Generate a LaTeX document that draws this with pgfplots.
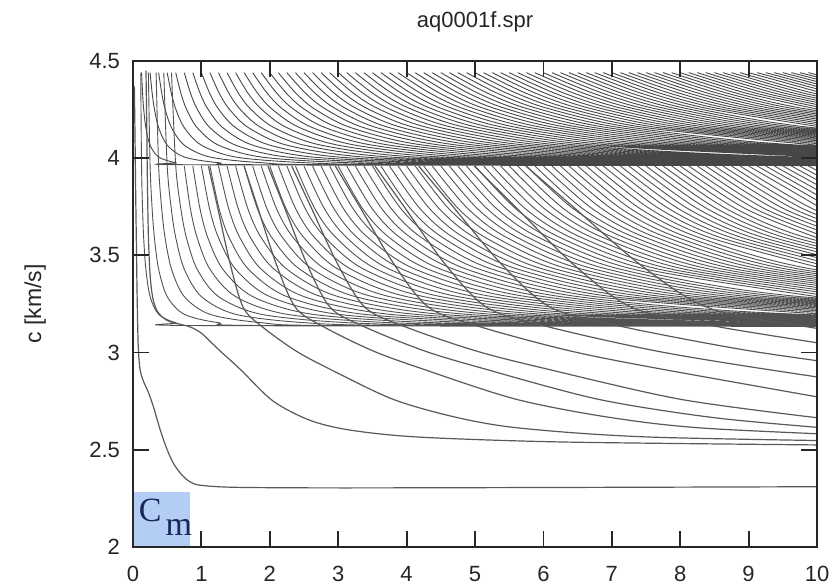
\documentclass[border=0pt]{standalone}
\usepackage{fontspec}
\setmainfont{Liberation Sans}
\newfontfamily\seriffont{Liberation Serif}
\usepackage{pgfplots}
\usepackage{pgfplotstable}
\pgfplotsset{compat=1.18}
\definecolor{cmblue}{RGB}{180,205,245}
\definecolor{cmtext}{RGB}{25,40,90}

% higher modes: x, c in upper band (cu), c in middle band (ci); nan rows separate curves
\pgfplotstableread[row sep=\\]{
x cu ci\\
0.113 nan 4.44\\ 0.125 4.44 3.96\\ 0.14 4.335 3.739\\ 0.156 4.253 3.591\\ 0.188 4.157 3.429\\ 0.25 4.067 3.288\\ 0.375 4.006 3.197\\ 0.625 3.977 3.154\\ 1 3.966 3.139\\ 10 3.962 3.135\\ nan nan nan\\
0.225 nan 4.44\\ 0.25 4.44 3.96\\ 0.28 4.335 3.739\\ 0.313 4.253 3.591\\ 0.375 4.157 3.429\\ 0.5 4.067 3.288\\ 0.75 4.006 3.197\\ 1.25 3.977 3.154\\ 2 3.966 3.139\\ 10 3.962 3.135\\ nan nan nan\\
0.338 nan 4.44\\ 0.375 4.44 3.96\\ 0.42 4.335 3.739\\ 0.469 4.253 3.591\\ 0.563 4.157 3.429\\ 0.75 4.067 3.288\\ 1.125 4.006 3.197\\ 1.875 3.977 3.154\\ 3 3.966 3.139\\ 10 3.962 3.135\\ nan nan nan\\
0.45 nan 4.44\\ 0.5 4.44 3.96\\ 0.56 4.335 3.739\\ 0.625 4.253 3.591\\ 0.75 4.157 3.429\\ 1 4.067 3.288\\ 1.5 4.006 3.197\\ 2.5 3.977 3.154\\ 4 3.966 3.139\\ 10 3.962 3.135\\ nan nan nan\\
0.563 nan 4.44\\ 0.625 4.44 3.96\\ 0.7 4.335 3.739\\ 0.781 4.253 3.591\\ 0.938 4.157 3.429\\ 1.25 4.067 3.288\\ 1.875 4.006 3.197\\ 3.125 3.977 3.154\\ 5 3.966 3.139\\ 10 3.962 3.135\\ nan nan nan\\
0.75 4.44 3.96\\ 0.84 4.335 3.739\\ 0.938 4.253 3.591\\ 1.125 4.157 3.429\\ 1.5 4.067 3.288\\ 2.25 4.006 3.197\\ 3.75 3.977 3.154\\ 6 3.966 3.139\\ 10 3.962 3.135\\ nan nan nan\\
0.875 4.44 3.96\\ 0.98 4.335 3.739\\ 1.094 4.253 3.591\\ 1.313 4.157 3.429\\ 1.75 4.067 3.288\\ 2.625 4.006 3.197\\ 4.375 3.977 3.154\\ 7 3.966 3.139\\ 10 3.962 3.135\\ nan nan nan\\
1 4.44 3.96\\ 1.12 4.335 3.739\\ 1.25 4.253 3.591\\ 1.5 4.157 3.429\\ 2 4.067 3.288\\ 3 4.006 3.197\\ 5 3.977 3.154\\ 8 3.966 3.139\\ 10 3.962 3.135\\ nan nan nan\\
1.125 4.44 3.96\\ 1.26 4.335 3.739\\ 1.406 4.253 3.591\\ 1.688 4.157 3.429\\ 2.25 4.067 3.288\\ 3.375 4.006 3.197\\ 5.625 3.977 3.154\\ 9 3.966 3.139\\ 10 3.962 3.135\\ nan nan nan\\
1.25 4.44 3.96\\ 1.4 4.335 3.739\\ 1.563 4.253 3.591\\ 1.875 4.157 3.429\\ 2.5 4.067 3.288\\ 3.75 4.006 3.197\\ 6.25 3.977 3.154\\ 10 3.966 3.139\\ nan nan nan\\
1.375 4.44 3.96\\ 1.54 4.335 3.739\\ 1.719 4.253 3.591\\ 2.063 4.157 3.429\\ 2.75 4.067 3.288\\ 4.125 4.006 3.197\\ 6.875 3.977 3.154\\ 11 3.966 3.139\\ nan nan nan\\
1.5 4.44 3.96\\ 1.68 4.335 3.739\\ 1.875 4.253 3.591\\ 2.25 4.157 3.429\\ 3 4.067 3.288\\ 4.5 4.006 3.197\\ 7.5 3.977 3.154\\ 12 3.966 3.139\\ nan nan nan\\
1.625 4.44 3.96\\ 1.82 4.335 3.739\\ 2.031 4.253 3.591\\ 2.438 4.157 3.429\\ 3.25 4.067 3.288\\ 4.875 4.006 3.197\\ 8.125 3.977 3.154\\ 13 3.966 3.139\\ nan nan nan\\
1.75 4.44 3.96\\ 1.96 4.335 3.739\\ 2.188 4.253 3.591\\ 2.625 4.157 3.429\\ 3.5 4.067 3.288\\ 5.25 4.006 3.197\\ 8.75 3.977 3.154\\ 14 3.966 3.139\\ nan nan nan\\
1.875 4.44 3.96\\ 2.1 4.335 3.739\\ 2.344 4.253 3.591\\ 2.813 4.157 3.429\\ 3.75 4.067 3.288\\ 5.625 4.006 3.197\\ 9.375 3.977 3.154\\ 15 3.966 3.139\\ nan nan nan\\
2 4.44 3.96\\ 2.24 4.335 3.739\\ 2.5 4.253 3.591\\ 3 4.157 3.429\\ 4 4.067 3.288\\ 6 4.006 3.197\\ 10 3.977 3.154\\ nan nan nan\\
2.125 4.44 3.96\\ 2.38 4.335 3.739\\ 2.656 4.253 3.591\\ 3.188 4.157 3.429\\ 4.25 4.067 3.288\\ 6.375 4.006 3.197\\ 10.625 3.977 3.154\\ nan nan nan\\
2.25 4.44 3.96\\ 2.52 4.335 3.739\\ 2.813 4.253 3.591\\ 3.375 4.157 3.429\\ 4.5 4.067 3.288\\ 6.75 4.006 3.197\\ 11.25 3.977 3.154\\ nan nan nan\\
2.375 4.44 3.96\\ 2.66 4.335 3.739\\ 2.969 4.253 3.591\\ 3.563 4.157 3.429\\ 4.75 4.067 3.288\\ 7.125 4.006 3.197\\ 11.875 3.977 3.154\\ nan nan nan\\
2.5 4.44 3.96\\ 2.8 4.335 3.739\\ 3.125 4.253 3.591\\ 3.75 4.157 3.429\\ 5 4.067 3.288\\ 7.5 4.006 3.197\\ 12.5 3.977 3.154\\ nan nan nan\\
2.625 4.44 3.96\\ 2.94 4.335 3.739\\ 3.281 4.253 3.591\\ 3.938 4.157 3.429\\ 5.25 4.067 3.288\\ 7.875 4.006 3.197\\ 13.125 3.977 3.154\\ nan nan nan\\
2.75 4.44 3.96\\ 3.08 4.335 3.739\\ 3.438 4.253 3.591\\ 4.125 4.157 3.429\\ 5.5 4.067 3.288\\ 8.25 4.006 3.197\\ 13.75 3.977 3.154\\ nan nan nan\\
2.875 4.44 3.96\\ 3.22 4.335 3.739\\ 3.594 4.253 3.591\\ 4.313 4.157 3.429\\ 5.75 4.067 3.288\\ 8.625 4.006 3.197\\ 14.375 3.977 3.154\\ nan nan nan\\
3 4.44 3.96\\ 3.36 4.335 3.739\\ 3.75 4.253 3.591\\ 4.5 4.157 3.429\\ 6 4.067 3.288\\ 9 4.006 3.197\\ 15 3.977 3.154\\ nan nan nan\\
3.125 4.44 3.96\\ 3.5 4.335 3.739\\ 3.906 4.253 3.591\\ 4.688 4.157 3.429\\ 6.25 4.067 3.288\\ 9.375 4.006 3.197\\ 15.625 3.977 3.154\\ nan nan nan\\
3.25 4.44 3.96\\ 3.64 4.335 3.739\\ 4.063 4.253 3.591\\ 4.875 4.157 3.429\\ 6.5 4.067 3.288\\ 9.75 4.006 3.197\\ 16.25 3.977 3.154\\ nan nan nan\\
3.375 4.44 3.96\\ 3.78 4.335 3.739\\ 4.219 4.253 3.591\\ 5.063 4.157 3.429\\ 6.75 4.067 3.288\\ 10.125 4.006 3.197\\ nan nan nan\\
3.5 4.44 3.96\\ 3.92 4.335 3.739\\ 4.375 4.253 3.591\\ 5.25 4.157 3.429\\ 7 4.067 3.288\\ 10.5 4.006 3.197\\ nan nan nan\\
3.625 4.44 3.96\\ 4.06 4.335 3.739\\ 4.531 4.253 3.591\\ 5.438 4.157 3.429\\ 7.25 4.067 3.288\\ 10.875 4.006 3.197\\ nan nan nan\\
3.75 4.44 3.96\\ 4.2 4.335 3.739\\ 4.688 4.253 3.591\\ 5.625 4.157 3.429\\ 7.5 4.067 3.288\\ 11.25 4.006 3.197\\ nan nan nan\\
3.875 4.44 3.96\\ 4.34 4.335 3.739\\ 4.844 4.253 3.591\\ 5.813 4.157 3.429\\ 7.75 4.067 3.288\\ 11.625 4.006 3.197\\ nan nan nan\\
4 4.44 3.96\\ 4.48 4.335 3.739\\ 5 4.253 3.591\\ 6 4.157 3.429\\ 8 4.067 3.288\\ 12 4.006 3.197\\ nan nan nan\\
4.125 4.44 3.96\\ 4.62 4.335 3.739\\ 5.156 4.253 3.591\\ 6.188 4.157 3.429\\ 8.25 4.067 3.288\\ 12.375 4.006 3.197\\ nan nan nan\\
4.25 4.44 3.96\\ 4.76 4.335 3.739\\ 5.313 4.253 3.591\\ 6.375 4.157 3.429\\ 8.5 4.067 3.288\\ 12.75 4.006 3.197\\ nan nan nan\\
4.375 4.44 3.96\\ 4.9 4.335 3.739\\ 5.469 4.253 3.591\\ 6.563 4.157 3.429\\ 8.75 4.067 3.288\\ 13.125 4.006 3.197\\ nan nan nan\\
4.5 4.44 3.96\\ 5.04 4.335 3.739\\ 5.625 4.253 3.591\\ 6.75 4.157 3.429\\ 9 4.067 3.288\\ 13.5 4.006 3.197\\ nan nan nan\\
4.625 4.44 3.96\\ 5.18 4.335 3.739\\ 5.781 4.253 3.591\\ 6.938 4.157 3.429\\ 9.25 4.067 3.288\\ 13.875 4.006 3.197\\ nan nan nan\\
4.75 4.44 3.96\\ 5.32 4.335 3.739\\ 5.938 4.253 3.591\\ 7.125 4.157 3.429\\ 9.5 4.067 3.288\\ 14.25 4.006 3.197\\ nan nan nan\\
4.875 4.44 3.96\\ 5.46 4.335 3.739\\ 6.094 4.253 3.591\\ 7.313 4.157 3.429\\ 9.75 4.067 3.288\\ 14.625 4.006 3.197\\ nan nan nan\\
5 4.44 3.96\\ 5.6 4.335 3.739\\ 6.25 4.253 3.591\\ 7.5 4.157 3.429\\ 10 4.067 3.288\\ nan nan nan\\
5.125 4.44 3.96\\ 5.74 4.335 3.739\\ 6.406 4.253 3.591\\ 7.688 4.157 3.429\\ 10.25 4.067 3.288\\ nan nan nan\\
5.25 4.44 3.96\\ 5.88 4.335 3.739\\ 6.563 4.253 3.591\\ 7.875 4.157 3.429\\ 10.5 4.067 3.288\\ nan nan nan\\
5.375 4.44 3.96\\ 6.02 4.335 3.739\\ 6.719 4.253 3.591\\ 8.063 4.157 3.429\\ 10.75 4.067 3.288\\ nan nan nan\\
5.5 4.44 3.96\\ 6.16 4.335 3.739\\ 6.875 4.253 3.591\\ 8.25 4.157 3.429\\ 11 4.067 3.288\\ nan nan nan\\
5.625 4.44 3.96\\ 6.3 4.335 3.739\\ 7.031 4.253 3.591\\ 8.438 4.157 3.429\\ 11.25 4.067 3.288\\ nan nan nan\\
5.75 4.44 3.96\\ 6.44 4.335 3.739\\ 7.188 4.253 3.591\\ 8.625 4.157 3.429\\ 11.5 4.067 3.288\\ nan nan nan\\
5.875 4.44 3.96\\ 6.58 4.335 3.739\\ 7.344 4.253 3.591\\ 8.813 4.157 3.429\\ 11.75 4.067 3.288\\ nan nan nan\\
6 4.44 3.96\\ 6.72 4.335 3.739\\ 7.5 4.253 3.591\\ 9 4.157 3.429\\ 12 4.067 3.288\\ nan nan nan\\
6.125 4.44 3.96\\ 6.86 4.335 3.739\\ 7.656 4.253 3.591\\ 9.188 4.157 3.429\\ 12.25 4.067 3.288\\ nan nan nan\\
6.25 4.44 3.96\\ 7 4.335 3.739\\ 7.813 4.253 3.591\\ 9.375 4.157 3.429\\ 12.5 4.067 3.288\\ nan nan nan\\
6.375 4.44 3.96\\ 7.14 4.335 3.739\\ 7.969 4.253 3.591\\ 9.563 4.157 3.429\\ 12.75 4.067 3.288\\ nan nan nan\\
6.5 4.44 3.96\\ 7.28 4.335 3.739\\ 8.125 4.253 3.591\\ 9.75 4.157 3.429\\ 13 4.067 3.288\\ nan nan nan\\
6.625 4.44 3.96\\ 7.42 4.335 3.739\\ 8.281 4.253 3.591\\ 9.938 4.157 3.429\\ 13.25 4.067 3.288\\ nan nan nan\\
6.75 4.44 3.96\\ 7.56 4.335 3.739\\ 8.438 4.253 3.591\\ 10.125 4.157 3.429\\ nan nan nan\\
6.875 4.44 3.96\\ 7.7 4.335 3.739\\ 8.594 4.253 3.591\\ 10.313 4.157 3.429\\ nan nan nan\\
7 4.44 3.96\\ 7.84 4.335 3.739\\ 8.75 4.253 3.591\\ 10.5 4.157 3.429\\ nan nan nan\\
7.125 4.44 3.96\\ 7.98 4.335 3.739\\ 8.906 4.253 3.591\\ 10.688 4.157 3.429\\ nan nan nan\\
7.25 4.44 3.96\\ 8.12 4.335 3.739\\ 9.063 4.253 3.591\\ 10.875 4.157 3.429\\ nan nan nan\\
7.375 4.44 3.96\\ 8.26 4.335 3.739\\ 9.219 4.253 3.591\\ 11.063 4.157 3.429\\ nan nan nan\\
7.5 4.44 3.96\\ 8.4 4.335 3.739\\ 9.375 4.253 3.591\\ 11.25 4.157 3.429\\ nan nan nan\\
7.625 4.44 3.96\\ 8.54 4.335 3.739\\ 9.531 4.253 3.591\\ 11.438 4.157 3.429\\ nan nan nan\\
7.75 4.44 3.96\\ 8.68 4.335 3.739\\ 9.688 4.253 3.591\\ 11.625 4.157 3.429\\ nan nan nan\\
7.875 4.44 3.96\\ 8.82 4.335 3.739\\ 9.844 4.253 3.591\\ 11.813 4.157 3.429\\ nan nan nan\\
8 4.44 3.96\\ 8.96 4.335 3.739\\ 10 4.253 3.591\\ nan nan nan\\
8.125 4.44 3.96\\ 9.1 4.335 3.739\\ 10.156 4.253 3.591\\ nan nan nan\\
8.25 4.44 3.96\\ 9.24 4.335 3.739\\ 10.313 4.253 3.591\\ nan nan nan\\
8.375 4.44 3.96\\ 9.38 4.335 3.739\\ 10.469 4.253 3.591\\ nan nan nan\\
8.5 4.44 3.96\\ 9.52 4.335 3.739\\ 10.625 4.253 3.591\\ nan nan nan\\
8.625 4.44 3.96\\ 9.66 4.335 3.739\\ 10.781 4.253 3.591\\ nan nan nan\\
8.75 4.44 3.96\\ 9.8 4.335 3.739\\ 10.938 4.253 3.591\\ nan nan nan\\
8.875 4.44 3.96\\ 9.94 4.335 3.739\\ 11.094 4.253 3.591\\ nan nan nan\\
9 4.44 3.96\\ 10.08 4.335 3.739\\ nan nan nan\\
9.125 4.44 3.96\\ 10.22 4.335 3.739\\ nan nan nan\\
9.25 4.44 3.96\\ 10.36 4.335 3.739\\ nan nan nan\\
9.375 4.44 3.96\\ 10.5 4.335 3.739\\ nan nan nan\\
9.5 4.44 3.96\\ 10.64 4.335 3.739\\ nan nan nan\\
9.625 4.44 3.96\\ 10.78 4.335 3.739\\ nan nan nan\\
9.75 4.44 3.96\\ 10.92 4.335 3.739\\ nan nan nan\\
9.875 4.44 3.96\\ 11.06 4.335 3.739\\
}\modes

% lowest modes
\pgfplotstableread[row sep=\\]{
x y\\
0.02 4.37\\ 0.03 4.1\\ 0.04 3.8\\ 0.05 3.55\\ 0.06 3.3\\ 0.075 3.05\\ 0.1 2.92\\ 0.15 2.855\\ 0.22 2.8\\ 0.3 2.72\\ 0.4 2.6\\ 0.5 2.5\\ 0.6 2.425\\ 0.73 2.365\\ 0.85 2.332\\ 1 2.317\\ 1.5 2.307\\ 3 2.304\\ 6 2.306\\ 10 2.31\\ nan nan\\
0.19 4.45\\ 0.2 4.2\\ 0.21 3.9\\ 0.225 3.6\\ 0.25 3.4\\ 0.29 3.28\\ 0.36 3.21\\ 0.5 3.165\\ 0.7 3.145\\ 0.85 3.13\\ 1 3.1\\ 1.15 3.05\\ 1.3 3.0\\ 1.58 2.91\\ 2.05 2.75\\ 2.6 2.65\\ 3.2 2.6\\ 4.2 2.565\\ 6.3 2.54\\ 10 2.525\\ nan nan\\
1.102 3.96\\ 1.235 3.75\\ 1.425 3.45\\ 1.615 3.23\\ 1.9 3.13\\ 2.375 3.01\\ 2.85 2.92\\ 3.8 2.76\\ 4.75 2.665\\ 5.7 2.61\\ 7.6 2.565\\ 11.4 2.54\\ nan nan\\
1.624 3.96\\ 1.82 3.75\\ 2.1 3.45\\ 2.38 3.23\\ 2.8 3.13\\ 3.5 3.01\\ 4.2 2.92\\ 5.6 2.76\\ 7 2.665\\ 8.4 2.61\\ 11.2 2.565\\ nan nan\\
1.972 3.96\\ 2.21 3.75\\ 2.55 3.45\\ 2.89 3.23\\ 3.4 3.13\\ 4.25 3.01\\ 5.1 2.92\\ 6.8 2.76\\ 8.5 2.665\\ 10.2 2.61\\ nan nan\\
2.32 3.96\\ 2.6 3.75\\ 3 3.45\\ 3.4 3.23\\ 4 3.13\\ 5 3.01\\ 6 2.92\\ 8 2.76\\ 10 2.665\\ nan nan\\
2.958 3.96\\ 3.315 3.75\\ 3.825 3.45\\ 4.335 3.23\\ 5.1 3.13\\ 6.375 3.01\\ 7.65 2.92\\ 10.2 2.76\\ nan nan\\
3.538 3.96\\ 3.965 3.75\\ 4.575 3.45\\ 5.185 3.23\\ 6.1 3.13\\ 7.625 3.01\\ 9.15 2.92\\ 12.2 2.76\\ nan nan\\
4.176 3.96\\ 4.68 3.75\\ 5.4 3.45\\ 6.12 3.23\\ 7.2 3.13\\ 9 3.01\\ 10.8 2.92\\ nan nan\\
4.988 3.96\\ 5.59 3.75\\ 6.45 3.45\\ 7.31 3.23\\ 8.6 3.13\\ 10.75 3.01\\ nan nan\\
5.742 3.96\\ 6.435 3.75\\ 7.425 3.45\\ 8.415 3.23\\ 9.9 3.13\\ 12.375 3.01\\
}\lowmodes

\begin{document}
\begin{tikzpicture}
\useasboundingbox (-66.5pt,-18pt) rectangle (351pt,273.5pt);
\begin{axis}[
  scale only axis, width=342pt, height=243pt,
  xmin=0, xmax=10, ymin=2, ymax=4.5,
  xtick={0,1,...,10}, ytick={2,2.5,3,3.5,4,4.5},
  tick align=inside, xtick pos=both, ytick pos=both,
  xticklabel pos=left, yticklabel pos=left,
  major tick length=8pt,
  every tick/.style={black!85, line width=0.9pt},
  axis line style={black!85, line width=1pt},
  tick label style={font=\fontsize{11}{13}\selectfont, text=black!85},
  /pgf/number format/assume math mode=true,
  xticklabel style={yshift=-6pt},
  yticklabel style={xshift=-3pt},
  title={aq0001f.spr},
  title style={font=\fontsize{11}{13}\selectfont, text=black!85, at={(0.5,1)}, anchor=south, yshift=5pt},
  ylabel={c [km/s]},
  ylabel style={font=\fontsize{11.5}{13}\selectfont, text=black!85, at={(axis description cs:-0.143,0.5)}, anchor=center},
  unbounded coords=jump,
  axis on top,
]
\addplot[black!72, line width=0.45pt, smooth] table[x=x, y=cu] {\modes};
\addplot[black!68, line width=0.45pt, smooth] table[x=x, y=ci] {\modes};
\addplot[black!65, line width=0.6pt, smooth] table[x=x, y=y] {\lowmodes};
\addplot[fill=cmblue, draw=none] coordinates {(0,2.283) (0.83,2.283)} \closedcycle;
\node[anchor=base west, inner sep=0pt, text=cmtext] at (axis cs:0.08,2.13)
  {\seriffont\fontsize{17}{17}\selectfont C\hspace{2pt}\raisebox{-7pt}{m}};
\end{axis}
\end{tikzpicture}
\end{document}
